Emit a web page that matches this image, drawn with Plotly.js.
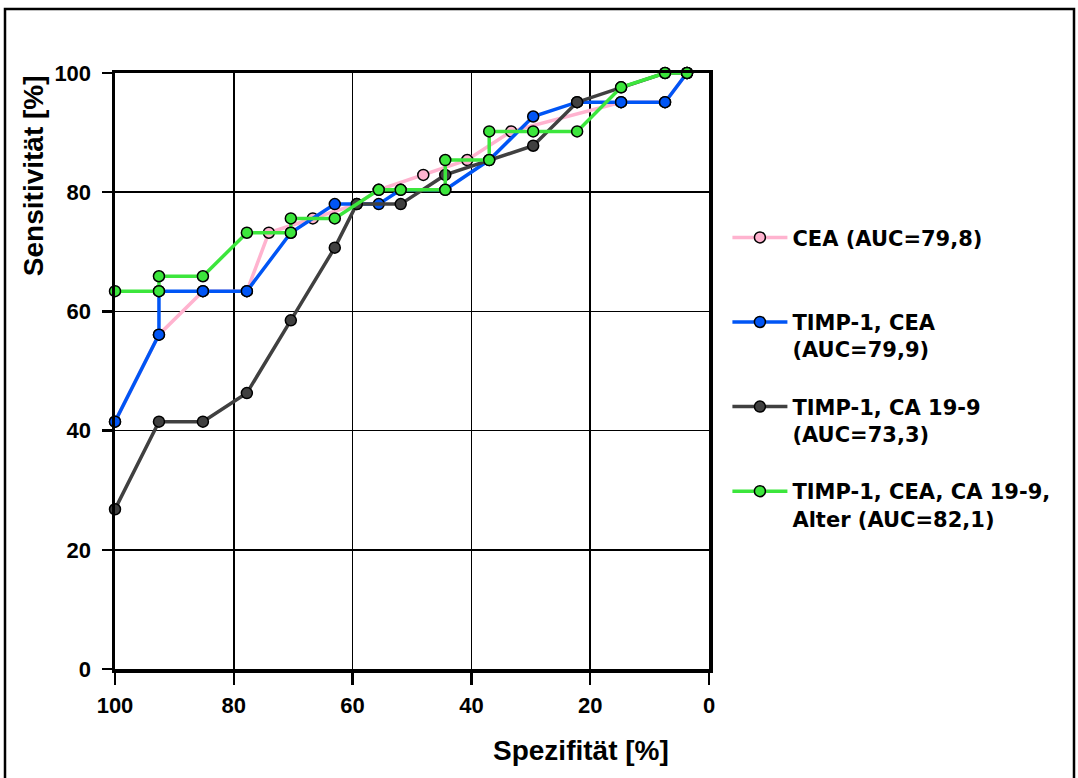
<!DOCTYPE html>
<html>
<head>
<meta charset="utf-8">
<script src="https://cdn.plot.ly/plotly-3.0.1.min.js"></script>
<style>html,body{margin:0;padding:0;background:#fff;}#chart{width:1078px;height:778px;}</style>
</head>
<body>
<div id="chart"></div>
<script>
// CEA
const ceaSpec = [100, 92.6, 85.2, 77.8, 74.1, 66.7, 59.3, 55.6, 48.1, 40.7, 33.3, 14.8, 7.4, 3.7];
const ceaSens = [41.5, 56.1, 63.4, 63.4, 73.2, 75.6, 78.0, 80.4, 82.9, 85.4, 90.2, 95.1, 95.1, 100];
// TIMP-1, CEA
const tcSpec = [100, 92.6, 92.6, 85.2, 77.8, 70.4, 63.0, 55.6, 51.9, 44.4, 37.0, 29.6, 22.2, 14.8, 7.4, 3.7];
const tcSens = [41.5, 56.1, 63.4, 63.4, 63.4, 73.2, 78.0, 78.0, 80.4, 80.4, 85.4, 92.7, 95.1, 95.1, 95.1, 100];
// TIMP-1, CA 19-9
const tcaSpec = [100, 92.6, 85.2, 77.8, 70.4, 63.0, 59.3, 51.9, 44.4, 29.6, 22.2, 14.8, 7.4, 3.7];
const tcaSens = [26.8, 41.5, 41.5, 46.3, 58.5, 70.7, 78.0, 78.0, 82.9, 87.8, 95.1, 97.6, 100, 100];
// TIMP-1, CEA, CA 19-9, Alter
const allSpec = [100, 92.6, 92.6, 85.2, 77.8, 70.4, 70.4, 63.0, 55.6, 51.9, 44.4, 44.4, 37.0, 37.0, 29.6, 22.2, 14.8, 7.4, 3.7];
const allSens = [63.4, 63.4, 65.9, 65.9, 73.2, 73.2, 75.6, 75.6, 80.4, 80.4, 80.4, 85.4, 85.4, 90.2, 90.2, 90.2, 97.6, 100, 100];

const seriesNames = ["CEA (AUC=79,8)<br> ", "TIMP-1, CEA<br>(AUC=79,9)", "TIMP-1, CA 19-9<br>(AUC=73,3)", "TIMP-1, CEA, CA 19-9,<br>Alter (AUC=82,1)"];
const xTicks = [100, 80, 60, 40, 20, 0];
const yTicks = [0, 20, 40, 60, 80, 100];

const colors = ["#FFB3CF", "#0055F5", "#404040", "#3CE63C"];
const xs = [ceaSpec, tcSpec, tcaSpec, allSpec];
const ys = [ceaSens, tcSens, tcaSens, allSens];

const font = {family: "Liberation Sans, Arial, sans-serif", color: "#000", weight: "bold"};
const legFont = {family: "DejaVu Sans, Liberation Sans, sans-serif", color: "#000", weight: "bold", size: 21};

const traces = xs.map((x, i) => ({
  x: x, y: ys[i], type: "scatter", mode: "lines+markers",
  name: seriesNames[i], legendgroup: "g" + i,
  line: {color: colors[i], width: 3.5},
  marker: {color: colors[i], size: 11, line: {color: "#000", width: 1.5}},
  cliponaxis: false
}));

const layout = {
  width: 1078, height: 778,
  margin: {l: 115, r: 369, t: 73, b: 109},
  paper_bgcolor: "#fff", plot_bgcolor: "#fff",
  font: Object.assign({size: 21}, font),
  showlegend: true,
  legend: {
    x: 1.031, xanchor: "left", y: 0.758, yanchor: "top",
    font: legFont,
    traceorder: "grouped", tracegroupgap: 27, valign: "top",
    itemwidth: 55, bgcolor: "rgba(0,0,0,0)"
  },
  xaxis: {
    range: [100, 0], autorange: false, tickvals: xTicks, ticktext: xTicks.map(String),
    showgrid: true, gridcolor: "#000", gridwidth: 1.5,
    showline: true, linecolor: "#000", linewidth: 3.5, mirror: true,
    ticks: "outside", ticklen: 12, tickwidth: 2.5, tickcolor: "#000",
    tickfont: Object.assign({size: 22}, font), ticklabelstandoff: 2,
    zeroline: false, fixedrange: true
  },
  yaxis: {
    range: [0, 100], autorange: false, tickvals: yTicks, ticktext: yTicks.map(String),
    showgrid: true, gridcolor: "#000", gridwidth: 1.5,
    showline: true, linecolor: "#000", linewidth: 3.5, mirror: true,
    ticks: "outside", ticklen: 10, tickwidth: 2.5, tickcolor: "#000",
    tickfont: Object.assign({size: 22}, font), ticklabelstandoff: 6,
    zeroline: false, fixedrange: true
  },
  annotations: [
    {text: "Sensitivität [%]", xref: "paper", yref: "paper", x: -0.138, y: 0.827,
     xanchor: "center", yanchor: "middle", textangle: -90, showarrow: false,
     font: Object.assign({size: 28}, font)},
    {text: "Spezifität [%]", xref: "paper", yref: "paper", x: 0.785, y: -0.136,
     xanchor: "center", yanchor: "middle", showarrow: false,
     font: Object.assign({size: 28}, font)}
  ],
  shapes: [
    {type: "rect", xref: "paper", yref: "paper",
     x0: (5 - 115) / 594, x1: (1074 - 115) / 594, y0: (669 - 800) / 596, y1: (669 - 9) / 596,
     line: {color: "#000", width: 2.5}, fillcolor: "rgba(0,0,0,0)", layer: "below"}
  ]
};

Plotly.newPlot("chart", traces, layout, {displayModeBar: false, staticPlot: true});
</script>
</body>
</html>
